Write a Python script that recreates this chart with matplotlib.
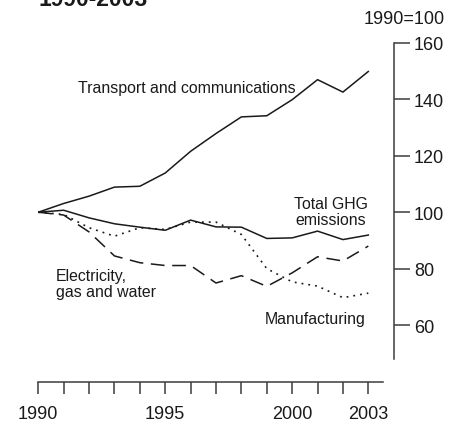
import matplotlib
matplotlib.use("Agg")
import matplotlib.pyplot as plt
from matplotlib.ticker import FixedLocator, FuncFormatter

plt.rcParams['font.family'] = ['Liberation Sans', 'DejaVu Sans']

years = list(range(1990, 2004))
transport = [100, 103.1, 105.7, 108.9, 109.2, 113.9, 121.6, 127.9, 133.8, 134.2, 139.9, 147.0, 142.6, 149.9]
total_ghg = [100, 100.7, 98.0, 95.9, 94.7, 93.6, 97.2, 94.8, 94.7, 90.7, 90.9, 93.3, 90.3, 91.9]
electricity = [100, 99.0, 93.0, 84.5, 82.1, 81.1, 81.1, 74.9, 77.5, 73.7, 78.5, 84.2, 82.7, 88.0]
manufacturing = [100, 99.2, 94.5, 91.5, 94.5, 93.9, 96.5, 96.5, 92.1, 80.0, 75.3, 73.8, 69.7, 71.3]
labelled_years = [1990, 1995, 2000, 2003]
y_ticks = [60, 80, 100, 120, 140, 160]

W, H = 463, 435
fig = plt.figure(figsize=(W / 100, H / 100), dpi=100)

# axes placed in pixel terms: 1990 at x=38, right spine (2004) at x=394
left, right = 38.3, 393.7
top, bottom = 44, 383
ax = fig.add_axes([left / W, 1 - bottom / H, (right - left) / W, (bottom - top) / H])
ax.set_xlim(1990, 2004)
ax.set_ylim(39.8, 160)

ink = '#1a1a1a'
ax.plot(years, transport, color=ink, lw=1.1)
ax.plot(years, total_ghg, color=ink, lw=1.1)
ax.plot(years, electricity, color=ink, lw=1.1, dashes=(9, 5))
ax.plot(years, manufacturing, color=ink, lw=1.2, dashes=(1.1, 3))

axis_col = '#3c3c3c'
for s in ['top', 'left']:
    ax.spines[s].set_visible(False)
ax.spines['right'].set_bounds(48, 160)
ax.spines['bottom'].set_bounds(1990, 2003.57)
for s in ['right', 'bottom']:
    ax.spines[s].set_color(axis_col)
    ax.spines[s].set_linewidth(1.1)

ax.yaxis.tick_right()
ax.set_yticks(y_ticks)
ax.tick_params(axis='y', direction='out', length=11.5, width=1.1, color=axis_col,
               pad=3, labelsize=13, labelcolor=ink)

ax.xaxis.set_major_locator(FixedLocator(years))
ax.xaxis.set_major_formatter(FuncFormatter(lambda v, p: str(int(round(v))) if int(round(v)) in labelled_years else ''))
ax.tick_params(axis='x', direction='out', length=8.6, width=1.1, color=axis_col,
               pad=8, labelsize=13, labelcolor=ink)

def px(x, y):
    return x / W, 1 - y / H

fig.text(*px(38, 6), '1990-2003', fontsize=16.5, fontweight='bold', color=ink, va='baseline', ha='left')
fig.text(*px(445, 20), '1990=100', fontsize=13, color=ink, ha='right', va='center')

fs = 11.4
fig.text(*px(78, 89), 'Transport and communications', fontsize=fs, color=ink, ha='left', va='center')
fig.text(*px(331, 212.5), 'Total GHG\nemissions', fontsize=fs, color=ink, ha='center', va='center',
         multialignment='center', linespacing=1.1)
fig.text(*px(56, 284.5), 'Electricity,\ngas and water', fontsize=fs, color=ink, ha='left', va='center',
         linespacing=1.1)
fig.text(*px(265, 320), 'Manufacturing', fontsize=fs, color=ink, ha='left', va='center')

fig.savefig('out.png', dpi=100)
